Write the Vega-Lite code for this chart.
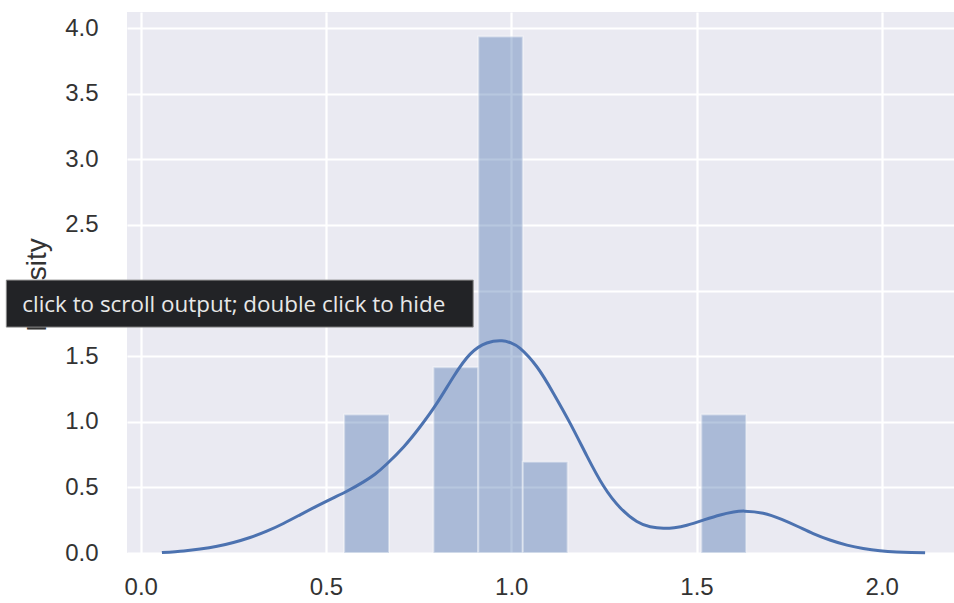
{
  "$schema": "https://vega.github.io/schema/vega-lite/v6.json",
  "width": 827,
  "height": 541,
  "autosize": {"type": "none"},
  "padding": {"left": 127, "top": 12, "right": 0, "bottom": 50},
  "background": "white",
  "config": {
    "view": {"fill": "#EAEAF2", "stroke": null},
    "axis": {
      "grid": true,
      "gridColor": "white",
      "gridWidth": 2.2,
      "domain": false,
      "ticks": false,
      "labelFont": "Liberation Sans",
      "labelFontSize": 24,
      "labelColor": "#333333",
      "titleFont": "Liberation Sans",
      "titleFontSize": 28,
      "titleFontWeight": "normal",
      "titleColor": "#333333"
    }
  },
  "datasets": {
    "bins": [
      {"bin_start": 0.549, "bin_end": 0.670, "density": 1.055},
      {"bin_start": 0.790, "bin_end": 0.911, "density": 1.415},
      {"bin_start": 0.911, "bin_end": 1.031, "density": 3.935},
      {"bin_start": 1.031, "bin_end": 1.152, "density": 0.695},
      {"bin_start": 1.513, "bin_end": 1.634, "density": 1.055}
    ],
    "kde": [
      {"x": 0.057, "y": 0.003},
      {"x": 0.116, "y": 0.016},
      {"x": 0.160, "y": 0.030},
      {"x": 0.206, "y": 0.051},
      {"x": 0.250, "y": 0.080},
      {"x": 0.295, "y": 0.118},
      {"x": 0.340, "y": 0.166},
      {"x": 0.385, "y": 0.225},
      {"x": 0.430, "y": 0.291},
      {"x": 0.475, "y": 0.357},
      {"x": 0.520, "y": 0.420},
      {"x": 0.560, "y": 0.476},
      {"x": 0.600, "y": 0.540},
      {"x": 0.632, "y": 0.600},
      {"x": 0.664, "y": 0.678},
      {"x": 0.710, "y": 0.810},
      {"x": 0.754, "y": 0.962},
      {"x": 0.799, "y": 1.140},
      {"x": 0.844, "y": 1.343},
      {"x": 0.889, "y": 1.515},
      {"x": 0.934, "y": 1.600},
      {"x": 0.975, "y": 1.617},
      {"x": 1.000, "y": 1.600},
      {"x": 1.024, "y": 1.559},
      {"x": 1.069, "y": 1.419},
      {"x": 1.114, "y": 1.216},
      {"x": 1.159, "y": 0.988},
      {"x": 1.204, "y": 0.740},
      {"x": 1.249, "y": 0.510},
      {"x": 1.294, "y": 0.345},
      {"x": 1.339, "y": 0.240},
      {"x": 1.375, "y": 0.200},
      {"x": 1.411, "y": 0.188},
      {"x": 1.440, "y": 0.193},
      {"x": 1.474, "y": 0.212},
      {"x": 1.520, "y": 0.252},
      {"x": 1.564, "y": 0.290},
      {"x": 1.600, "y": 0.312},
      {"x": 1.630, "y": 0.319},
      {"x": 1.680, "y": 0.303},
      {"x": 1.730, "y": 0.256},
      {"x": 1.775, "y": 0.200},
      {"x": 1.815, "y": 0.148},
      {"x": 1.860, "y": 0.099},
      {"x": 1.906, "y": 0.060},
      {"x": 1.950, "y": 0.034},
      {"x": 1.995, "y": 0.017},
      {"x": 2.040, "y": 0.008},
      {"x": 2.080, "y": 0.004},
      {"x": 2.117, "y": 0.002}
    ]
  },
  "layer": [
    {
      "data": {"name": "bins"},
      "mark": {"type": "rect", "fill": "#4C72B0", "fillOpacity": 0.4, "stroke": "white", "strokeOpacity": 0.4, "strokeWidth": 2},
      "encoding": {
        "x": {
          "field": "bin_start", "type": "quantitative",
          "scale": {"domain": [-0.0372, 2.195], "nice": false, "zero": false},
          "axis": {"values": [0, 0.5, 1, 1.5, 2], "format": ".1f", "labelPadding": 22, "title": null}
        },
        "x2": {"field": "bin_end"},
        "y": {
          "field": "density", "type": "quantitative",
          "scale": {"domain": [0, 4.122], "nice": false, "zero": true},
          "axis": {"values": [0, 0.5, 1, 1.5, 2, 2.5, 3, 3.5, 4], "format": ".1f", "labelPadding": 29, "title": "Density", "titleX": -82, "titleY": 272.5, "titleBaseline": "alphabetic"}
        },
        "y2": {"datum": 0}
      }
    },
    {
      "data": {"name": "kde"},
      "mark": {"type": "line", "color": "#4C72B0", "strokeWidth": 3, "interpolate": "natural"},
      "encoding": {
        "x": {"field": "x", "type": "quantitative"},
        "y": {"field": "y", "type": "quantitative"}
      }
    },
    {
      "data": {"values": [{"label": "click to scroll output; double click to hide"}]},
      "layer": [
        {
          "mark": {"type": "rect", "fill": "#222326", "stroke": "#8a8a8a", "strokeWidth": 1},
          "encoding": {
            "x": {"datum": -0.3629, "type": "quantitative"},
            "x2": {"datum": 0.8972},
            "y": {"datum": 2.0792, "type": "quantitative"},
            "y2": {"datum": 1.7212}
          }
        },
        {
          "mark": {"type": "text", "align": "left", "baseline": "alphabetic", "font": "Open Sans", "fontSize": 22.4, "color": "#e8e8e8"},
          "encoding": {
            "x": {"datum": -0.3198, "type": "quantitative"},
            "y": {"datum": 1.838, "type": "quantitative"},
            "text": {"field": "label"}
          }
        }
      ]
    }
  ]
}
